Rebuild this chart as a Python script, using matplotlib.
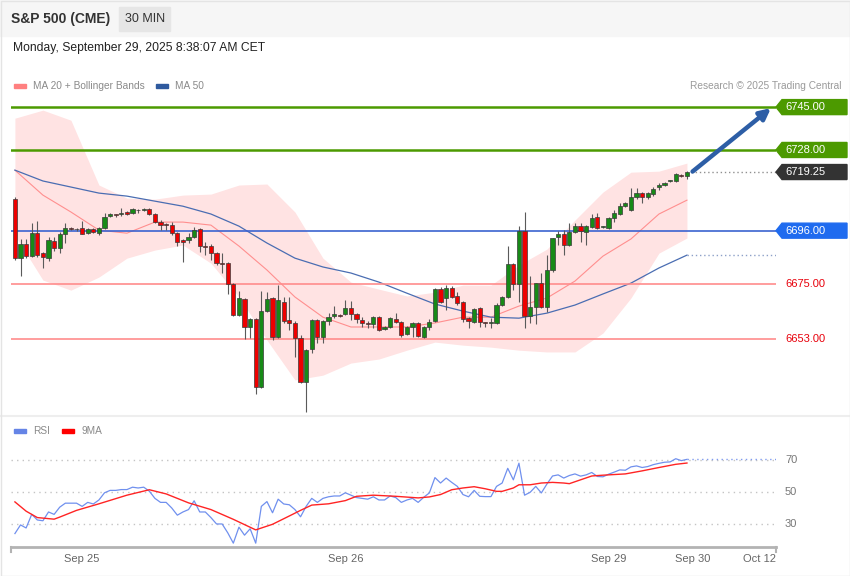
import matplotlib

matplotlib.use("Agg")

import matplotlib.pyplot as plt
import numpy as np
from matplotlib.patches import Polygon, Rectangle
from matplotlib.transforms import blended_transform_factory

plt.rcParams["font.family"] = ["Liberation Sans", "DejaVu Sans"]

W, H = 850, 576

# 30 min candles
OPEN = [6708.5, 6685.0, 6690.75, 6686.0, 6695.0, 6687.0, 6685.0, 6692.0, 6689.0, 6694.5,
        6697.0, 6696.5, 6697.0, 6695.0, 6696.5, 6695.0, 6697.0, 6701.75, 6702.5, 6702.5,
        6703.5, 6703.0, 6704.25, 6704.25, 6704.5, 6702.5, 6699.25, 6698.5, 6698.25, 6695.0,
        6692.25, 6692.25, 6693.5, 6696.5, 6690.0, 6690.0, 6687.0, 6683.25, 6683.0, 6674.75,
        6662.5, 6669.0, 6657.75, 6661.0, 6634.0, 6664.0, 6669.25, 6653.75, 6667.75, 6660.5,
        6659.5, 6653.5, 6636.0, 6649.0, 6660.5, 6653.75, 6660.0, 6662.0, 6662.5, 6663.0,
        6665.25, 6663.0, 6660.5, 6659.5, 6659.0, 6661.75, 6657.0, 6657.75, 6661.0, 6659.75,
        6655.0, 6657.75, 6659.5, 6653.75, 6657.75, 6660.0, 6672.75, 6669.25, 6673.25, 6670.0,
        6667.75, 6661.25, 6659.75, 6665.25, 6659.5, 6659.5, 6659.5, 6666.5, 6669.75, 6682.75,
        6674.75, 6695.75, 6662.0, 6665.75, 6675.25, 6665.75, 6680.5, 6693.5, 6694.5, 6690.25,
        6695.5, 6697.75, 6695.5, 6697.5, 6701.5, 6697.5, 6697.0, 6701.0, 6702.5, 6705.75,
        6704.25, 6709.25, 6711.0, 6709.25, 6710.5, 6713.25, 6714.0, 6715.75, 6715.75, 6718.0,
        6717.5]
HIGH = [6709.25, 6692.75, 6692.75, 6699.0, 6699.75, 6687.5, 6693.5, 6693.5, 6695.5, 6699.0,
        6697.5, 6697.0, 6699.75, 6697.0, 6697.0, 6697.5, 6703.0, 6703.0, 6702.75, 6705.0,
        6703.75, 6705.0, 6704.5, 6705.0, 6705.0, 6703.0, 6700.25, 6699.0, 6699.5, 6695.5,
        6692.75, 6695.0, 6697.5, 6697.0, 6691.5, 6690.75, 6687.5, 6687.0, 6683.5, 6675.25,
        6672.0, 6669.25, 6661.25, 6661.25, 6672.0, 6671.5, 6669.75, 6674.5, 6669.75, 6669.75,
        6660.0, 6654.5, 6649.0, 6661.0, 6661.0, 6660.5, 6663.25, 6666.0, 6663.0, 6668.5,
        6668.0, 6663.25, 6661.75, 6660.25, 6662.0, 6662.0, 6658.0, 6661.75, 6663.25, 6660.0,
        6658.0, 6659.75, 6659.75, 6658.0, 6661.0, 6673.25, 6673.5, 6674.5, 6674.0, 6671.75,
        6668.0, 6661.75, 6665.25, 6665.75, 6659.75, 6661.25, 6667.25, 6670.0, 6690.0, 6683.0,
        6697.75, 6703.5, 6678.0, 6675.25, 6679.25, 6686.25, 6693.0, 6695.75, 6696.25, 6699.0,
        6699.0, 6699.0, 6698.25, 6702.5, 6703.0, 6697.75, 6701.5, 6704.25, 6707.0, 6707.25,
        6713.0, 6713.0, 6711.25, 6711.25, 6713.25, 6715.0, 6715.25, 6716.25, 6718.75, 6718.5,
        6719.5]
LOW = [6684.25, 6678.0, 6685.0, 6685.5, 6685.5, 6681.25, 6684.0, 6688.0, 6687.0, 6691.0,
       6696.25, 6696.0, 6694.5, 6694.5, 6695.0, 6694.25, 6696.75, 6701.25, 6701.5, 6702.0,
       6702.25, 6702.5, 6703.0, 6703.75, 6702.25, 6699.0, 6696.25, 6696.25, 6694.25, 6690.0,
       6683.5, 6691.0, 6693.0, 6687.5, 6686.25, 6684.25, 6682.5, 6679.25, 6671.0, 6662.0,
       6662.0, 6653.0, 6653.5, 6631.25, 6633.5, 6663.75, 6652.5, 6653.5, 6659.5, 6656.5,
       6646.0, 6635.5, 6624.0, 6647.5, 6651.5, 6651.5, 6658.5, 6661.25, 6661.75, 6662.5,
       6660.5, 6659.5, 6657.75, 6657.5, 6657.5, 6656.25, 6656.5, 6657.5, 6659.5, 6653.75,
       6654.5, 6653.75, 6653.75, 6653.5, 6656.5, 6659.75, 6667.25, 6664.5, 6669.25, 6666.5,
       6659.75, 6657.5, 6659.5, 6657.75, 6657.75, 6657.5, 6659.0, 6666.0, 6669.25, 6672.5,
       6667.75, 6657.5, 6659.5, 6659.0, 6665.25, 6663.75, 6679.75, 6690.25, 6686.25, 6689.75,
       6695.0, 6691.5, 6690.25, 6697.0, 6696.5, 6697.0, 6696.5, 6699.5, 6702.25, 6705.25,
       6703.75, 6708.75, 6707.0, 6708.75, 6709.75, 6712.0, 6713.75, 6715.25, 6715.25, 6717.25,
       6716.5]
CLOSE = [6685.0, 6690.75, 6686.0, 6695.0, 6686.25, 6685.5, 6692.25, 6689.0, 6694.5, 6697.0,
         6696.5, 6696.75, 6694.5, 6696.5, 6695.5, 6697.0, 6701.5, 6702.5, 6702.25, 6703.0,
         6702.5, 6704.5, 6704.0, 6704.75, 6702.5, 6699.25, 6698.25, 6698.25, 6695.0, 6691.5,
         6691.5, 6693.5, 6696.25, 6690.0, 6689.5, 6687.0, 6683.0, 6682.75, 6674.75, 6662.5,
         6669.25, 6657.75, 6661.0, 6634.0, 6664.0, 6669.0, 6653.75, 6668.5, 6660.0, 6659.5,
         6653.5, 6636.0, 6648.75, 6660.5, 6653.75, 6660.0, 6661.75, 6663.0, 6662.0, 6665.25,
         6663.0, 6661.0, 6659.5, 6659.0, 6661.75, 6656.5, 6657.75, 6661.25, 6659.75, 6654.5,
         6657.75, 6659.5, 6654.25, 6657.75, 6659.75, 6672.75, 6667.75, 6673.25, 6669.75, 6667.25,
         6661.0, 6660.0, 6665.0, 6659.75, 6659.25, 6659.75, 6666.5, 6669.75, 6682.75, 6674.75,
         6695.75, 6662.0, 6665.75, 6675.25, 6665.75, 6680.5, 6693.0, 6694.5, 6690.25, 6695.5,
         6697.75, 6695.75, 6697.75, 6701.0, 6697.0, 6697.5, 6701.0, 6703.0, 6705.75, 6707.0,
         6709.25, 6711.0, 6709.25, 6711.0, 6712.5, 6714.0, 6715.0, 6715.75, 6718.5, 6717.5,
         6719.25]

# indicator lines sampled every 5 bars
BAND_IDX = list(range(0, 121, 5))
BB_UPPER = [6740.6, 6743.8, 6739.8, 6714.1, 6708.9, 6708.5, 6710.1, 6710.5, 6714.1, 6714.5,
            6703.4, 6685.1, 6675.6, 6672.8, 6670.1, 6671.6, 6674.4, 6674.4, 6682.4, 6688.7,
            6700.2, 6711.3, 6719.2, 6719.6, 6722.8]
BB_LOWER = [6694.2, 6676.4, 6672.4, 6677.6, 6685.1, 6688.3, 6690.3, 6683.1, 6669.7, 6652.6,
            6636.8, 6638.7, 6643.5, 6645.1, 6648.6, 6651.8, 6650.6, 6649.8, 6648.6, 6647.9,
            6647.9, 6655.4, 6669.3, 6687.1, 6693.1]
MA20 = [6720.0, 6710.1, 6703.4, 6696.2, 6695.0, 6699.4, 6699.4, 6698.2, 6689.9, 6680.4,
        6669.7, 6661.7, 6657.8, 6657.8, 6657.8, 6659.4, 6661.7, 6661.7, 6666.1, 6669.3,
        6676.0, 6685.9, 6692.7, 6702.6, 6708.1]
MA50 = [6720.0, 6715.7, 6713.3, 6710.9, 6709.7, 6707.7, 6705.7, 6702.6, 6697.8, 6691.1,
        6685.1, 6681.6, 6679.2, 6675.6, 6671.2, 6666.9, 6664.1, 6661.7, 6661.3, 6663.3,
        6666.5, 6670.9, 6675.2, 6681.2, 6686.3]

RSI = [24, 29.4, 27.5, 36, 32.5, 32, 37.5, 36, 40.5, 43, 43, 43, 41, 43.5, 42.5, 45, 49.5, 51,
       51, 51.5, 51.5, 53, 52.5, 53, 50.5, 46, 43.5, 43.5, 40, 35.5, 37.5, 39, 44.5, 37.5, 37.5,
       34, 30, 30, 24.5, 18, 28, 23, 27, 18, 41, 44, 37, 45.5, 42.5, 42, 39, 34.5, 41, 46, 43.5,
       46, 47, 47.5, 47.5, 49.5, 48, 46.5, 46, 45.5, 47, 45, 45, 47.5, 46.5, 43.5, 45, 46, 43.5,
       46.7, 49.4, 59, 55.6, 58.7, 56, 53.5, 48.4, 47, 51, 47.3, 47.1, 47.1, 53.5, 55.6, 64.8,
       57.6, 68, 48, 49.8, 53.5, 49.4, 55, 60, 60.7, 58.7, 60.3, 61.3, 59.9, 60.7, 62.2, 59.7,
       59.5, 61.1, 62.4, 63.8, 63.6, 65.7, 66.3, 65.3, 65.9, 67.1, 67.9, 68.6, 68.8, 70.8, 69.6,
       70.4]
RSI_MA_IDX = [0, 2, 4, 7, 8, 11, 15, 20, 24, 27, 31, 35, 39, 43, 46, 49, 51, 53, 56, 59, 61, 64,
              68, 72, 74, 76, 78, 80, 82, 84, 86, 87, 89, 90, 92, 94, 96, 98, 99, 101, 103, 105,
              109, 112, 115, 118, 120]
RSI_MA = [43.8, 38, 34, 33, 34.3, 38.5, 42.6, 48, 51.4, 48.8, 43.2, 39, 32.9, 26.3, 29.8, 35,
          38.5, 41.8, 42.6, 44.6, 47.3, 48, 47.3, 46.3, 46.9, 48.4, 51.4, 52.5, 53.3, 52, 50.4,
          50.4, 52.5, 54.5, 54.5, 55.6, 56, 55.6, 55.2, 57.6, 60, 60.5, 61.3, 63.2, 65.3, 67.3,
          68.1]
RSI_LEVELS = [70, 50, 30]

TARGETS = [6745.00, 6728.00]
PIVOT = 6696.00
SUPPORTS = [6675.00, 6653.00]

TICK_POS = [12, 59, 106, 121, 133]
TICK_LABELS = ["Sep 25", "Sep 26", "Sep 29", "Sep 30", "Oct 12"]

GREEN = "#4c9a00"
BLUE = "#1f6bef"
RED_TXT = "#e8000b"
GREY_TXT = "#8a8a8a"


def px_rect(x0, y0, x1, y1):
    return [x0 / W, 1 - y1 / H, (x1 - x0) / W, (y1 - y0) / H]


fig = plt.figure(figsize=(W / 100, H / 100), dpi=100)
fig.patch.set_facecolor("white")

# header band and outer frame
fig.patches.append(Rectangle((0, 1 - 36 / H), 1, 36 / H, transform=fig.transFigure,
                             color="#f6f6f6", zorder=0))
fig.patches.append(Rectangle((119 / W, 1 - 31 / H), 51 / W, 24 / H, transform=fig.transFigure,
                             color="#e6e6e6", zorder=1))
fig.patches.append(Rectangle((0.5 / W, 0.5 / H), 1 - 1 / W, 1 - 1 / H, transform=fig.transFigure,
                             fill=False, ec="#e4e4e4", lw=1, zorder=5))
fig.add_artist(plt.Line2D([0, 1], [1 - 416 / H, 1 - 416 / H], transform=fig.transFigure,
                          color="#eeeeee", lw=1.5))

fig.text(11 / W, 1 - 19 / H, "S&P 500 (CME)", fontsize=10, fontweight="bold",
         color="#333333", va="center")
fig.text(145 / W, 1 - 19 / H, "30 MIN", fontsize=9, color="#333333", va="center", ha="center")
fig.text(13 / W, 1 - 48 / H, "Monday, September 29, 2025 8:38:07 AM CET", fontsize=8.7,
         color="#222222", va="center")

# legends
fig.patches.append(Rectangle((14 / W, 1 - 88 / H), 12 / W, 4 / H, transform=fig.transFigure,
                             color="#ff8080"))
fig.text(33 / W, 1 - 86 / H, "MA 20 + Bollinger Bands", fontsize=7.3, color=GREY_TXT, va="center")
fig.patches.append(Rectangle((156 / W, 1 - 88 / H), 12 / W, 4 / H, transform=fig.transFigure,
                             color="#2f5a9e"))
fig.text(175 / W, 1 - 86 / H, "MA 50", fontsize=7.3, color=GREY_TXT, va="center")
fig.text(841 / W, 1 - 86 / H, "Research \u00a9 2025 Trading Central", fontsize=7.3,
         color="#9a9a9a", va="center", ha="right")

fig.patches.append(Rectangle((14 / W, 1 - 433 / H), 12 / W, 4 / H, transform=fig.transFigure,
                             color="#6584e6"))
fig.text(33 / W, 1 - 431 / H, "RSI", fontsize=7.3, color=GREY_TXT, va="center")
fig.patches.append(Rectangle((62 / W, 1 - 433 / H), 12 / W, 4 / H, transform=fig.transFigure,
                             color="#ff0000"))
fig.text(81 / W, 1 - 431 / H, "9MA", fontsize=7.3, color=GREY_TXT, va="center")

XLIM = (-0.7, 135.9)

# price panel
ax = fig.add_axes(px_rect(11, 95, 776, 415))
ax.set_xlim(*XLIM)
ax.set_ylim(6622.9, 6749.8)
for s in ax.spines.values():
    s.set_visible(False)
ax.set_xticks([])
ax.set_yticks([])
ax.patch.set_alpha(0)

ax.fill_between(BAND_IDX, BB_LOWER, BB_UPPER, color="#ffe3e3", lw=0, zorder=1)
ax.plot(BAND_IDX, MA20, color="#ff8f8f", lw=0.8, zorder=2)
ax.plot(BAND_IDX, MA50, color="#4a6db2", lw=0.9, zorder=2)
ax.plot([BAND_IDX[-1], XLIM[1]], [MA50[-1]] * 2, color="#8da0c8", lw=1, ls=(0, (1, 2)), zorder=2)

for t in TARGETS:
    ax.axhline(t, color=GREEN, lw=1.8, zorder=3)
ax.axhline(PIVOT, color="#3b63d0", lw=1.2, zorder=3)
for s in SUPPORTS:
    ax.axhline(s, color="#ff8c8c", lw=1.2, zorder=3)

idx = np.arange(len(CLOSE))
o = np.array(OPEN)
c = np.array(CLOSE)
up = c >= o
ax.vlines(idx, LOW, HIGH, color="#5a5a5a", lw=0.8, zorder=4)
bottom = np.minimum(o, c)
height = np.maximum(np.abs(c - o), 0.35)
ax.bar(idx, height, bottom=bottom, width=0.75, color=np.where(up, "#178a17", "#ee0000"),
       edgecolor="#3a3a3a", lw=0.5, zorder=5)

last = CLOSE[-1]
ax.plot([idx[-1] + 0.8, XLIM[1]], [last, last], color="#909090", lw=1, ls=(0, (1, 2)), zorder=3)

ax.annotate("", xy=(135.0, TARGETS[0] - 0.4), xytext=(idx[-1] + 1.0, last + 0.2),
            arrowprops=dict(arrowstyle="-|>", color="#2d5ea6", lw=3.2, mutation_scale=16,
                            shrinkA=0, shrinkB=0),
            annotation_clip=False, zorder=6)

# right-hand price tags
tr = blended_transform_factory(ax.transAxes, ax.transData)
ppx = (ax.get_ylim()[1] - ax.get_ylim()[0]) / 320.0
aw = 765.0


def tag(price, face, label):
    h = 7.5 * ppx
    verts = [(1.0, price), (1 + 6 / aw, price + h), (1 + 71 / aw, price + h),
             (1 + 71 / aw, price - h), (1 + 6 / aw, price - h)]
    ax.add_patch(Polygon(verts, closed=True, transform=tr, color=face, clip_on=False, zorder=6))
    ax.text(1 + 9 / aw, price, label, transform=tr, color="white", fontsize=8, va="center",
            ha="left", clip_on=False, zorder=7)


for t in TARGETS:
    tag(t, GREEN, f"{t:.2f}")
tag(last, "#333333", f"{last:.2f}")
tag(PIVOT, BLUE, f"{PIVOT:.2f}")
for s in SUPPORTS:
    ax.text(1 + 9 / aw, s, f"{s:.2f}", transform=tr, color=RED_TXT, fontsize=8, va="center",
            ha="left", clip_on=False)

# RSI panel
rx = fig.add_axes(px_rect(11, 440, 776, 547))
rx.set_xlim(*XLIM)
rx.set_ylim(15.6, 82.5)
for name, s in rx.spines.items():
    s.set_visible(name == "bottom")
rx.spines["bottom"].set_color("#b3b3b3")
rx.spines["bottom"].set_linewidth(2)
rx.patch.set_alpha(0)
rx.set_yticks([])
for lv in RSI_LEVELS:
    rx.axhline(lv, color="#c4c4c4", lw=1, ls=(0, (1, 3)), zorder=1)
    rx.text(1 + 9 / aw, lv, str(lv), transform=blended_transform_factory(rx.transAxes, rx.transData),
            color="#777777", fontsize=8, va="center", ha="left", clip_on=False)
rx.plot(np.arange(len(RSI)), RSI, color="#7090ee", lw=0.9, zorder=3)
rx.plot(RSI_MA_IDX, RSI_MA, color="#ff2424", lw=1.0, zorder=3)
rx.plot([len(RSI) - 1, XLIM[1]], [RSI[-1]] * 2, color="#7f9bf0", lw=1, ls=(0, (1, 2.5)), zorder=2)
for xe in (0, 1):
    rx.plot([xe, xe], [0, -0.05], transform=rx.transAxes, color="#b3b3b3", lw=1.5,
            clip_on=False)
rx.set_xticks(TICK_POS)
rx.set_xticklabels(TICK_LABELS, fontsize=8, color="#666666")
rx.tick_params(axis="x", length=0, pad=5)

fig.savefig("out.png", dpi=100)
